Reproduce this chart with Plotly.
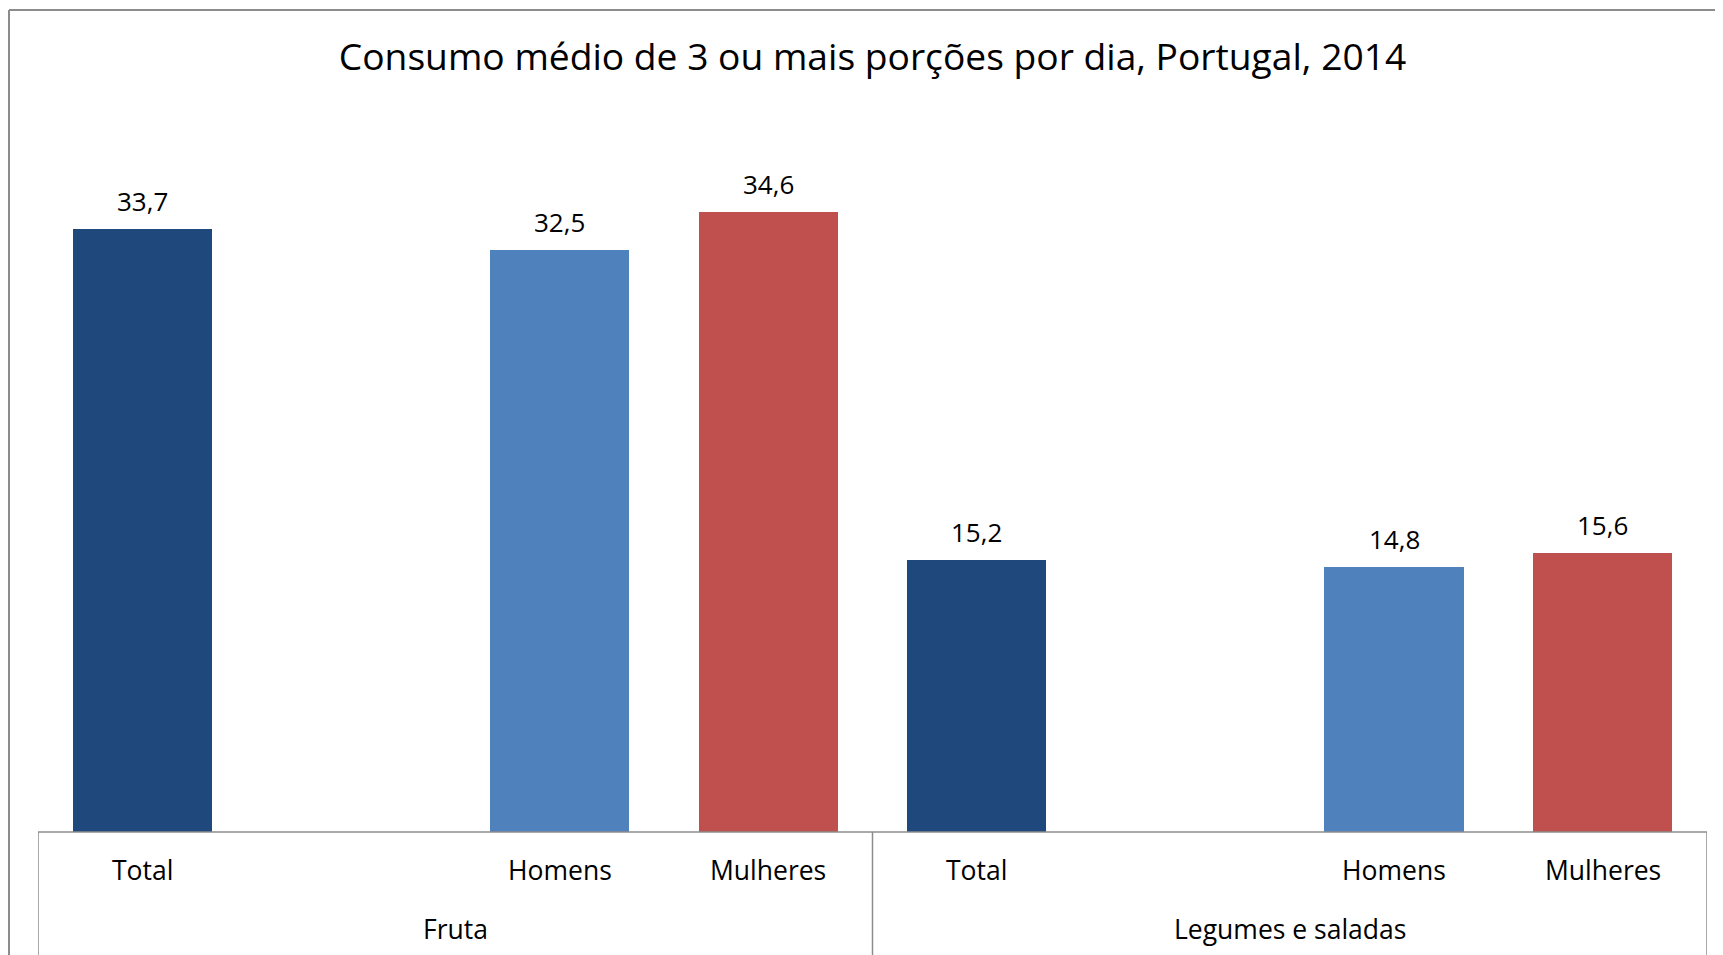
import plotly.graph_objects as go

# Data
groups = ["Fruta", "Legumes e saladas"]
categories = ["Total", "Homens", "Mulheres"]
fruta = [33.7, 32.5, 34.6]
legumes = [15.2, 14.8, 15.6]
colors = {"Total": "#1F497D", "Homens": "#4F81BD", "Mulheres": "#C0504D"}

# slot positions within each group of 4 slots (one empty slot after Total)
slot_in_group = {"Total": 0, "Homens": 2, "Mulheres": 3}
SLOTS = 4

FONT = "Open Sans"

fig = go.Figure()
xs, ys, cols, texts, labels = [], [], [], [], []
for gi, vals in enumerate([fruta, legumes]):
    for cat, v in zip(categories, vals):
        xs.append(gi * SLOTS + slot_in_group[cat])
        ys.append(v)
        cols.append(colors[cat])
        texts.append(f"{v:.1f}".replace(".", ","))
        labels.append(cat)

fig.add_trace(go.Bar(
    x=xs, y=ys, width=0.667,
    marker=dict(color=cols, line=dict(width=0)),
    hoverinfo="skip",
))

# page body has an 8px margin; size figure to fit the window
W, H = 1715, 947
L, R, T, B = 30, 16, 105, 123
plot_h = H - T - B
plot_w = W - L - R

fig.update_layout(
    width=W, height=H,
    margin=dict(l=L, r=R, t=T, b=B),
    paper_bgcolor="white", plot_bgcolor="white",
    showlegend=False,
    bargap=0,
    font=dict(family=FONT, color="#000000"),
    title=dict(text="Consumo médio de 3 ou mais porções por dia, Portugal, 2014",
               x=0.5, xref="paper", xanchor="center",
               y=1 - 49 / H, yref="container", yanchor="middle",
               font=dict(family=FONT, size=37.2, color="#000000")),
    xaxis=dict(range=[-0.5, len(groups) * SLOTS - 0.5], showticklabels=False,
               showgrid=False, zeroline=False, showline=False, fixedrange=True),
    yaxis=dict(range=[0, 40.15], visible=False, showgrid=False, zeroline=False),
)

# data labels
for x, y, t in zip(xs, ys, texts):
    fig.add_annotation(x=x, xref="x", y=y, yref="y", yanchor="middle", yshift=28,
                       text=t, showarrow=False,
                       font=dict(family=FONT, size=26, color="#000000"))

# category tick labels and group labels
for x, lab in zip(xs, labels):
    fig.add_annotation(x=x, xref="x", y=0, yref="paper", yanchor="middle",
                       yshift=-38, text=lab, showarrow=False,
                       font=dict(family=FONT, size=26.5, color="#000000"))
for gi, g in enumerate(groups):
    fig.add_annotation(x=gi * SLOTS + (SLOTS - 1) / 2, xref="x", y=0, yref="paper",
                       yanchor="middle", yshift=-97, text=g, showarrow=False,
                       font=dict(family=FONT, size=26.5, color="#000000"))

grey = "#8C8C8C"
# axis line
fig.add_shape(type="line", xref="paper", yref="paper", x0=0, x1=1, y0=0, y1=0,
              line=dict(color=grey, width=1.5))
# group dividers
bottom = -B / plot_h
for gi in range(len(groups) + 1):
    xd = gi * SLOTS - 0.5
    fig.add_shape(type="line", xref="x", yref="paper", x0=xd, x1=xd, y0=0, y1=bottom - 0.01,
                  line=dict(color=grey, width=1.5))

# outer chart border (left and top edges visible)
bx = (1 - L) / plot_w
by = ((H - B) - 2) / plot_h
fig.add_shape(type="line", xref="paper", yref="paper", x0=bx, x1=bx, y0=by, y1=bottom - 0.02,
              line=dict(color=grey, width=2))
fig.add_shape(type="line", xref="paper", yref="paper", x0=bx, x1=1.05, y0=by, y1=by,
              line=dict(color=grey, width=2))

fig.write_html("out.html")
